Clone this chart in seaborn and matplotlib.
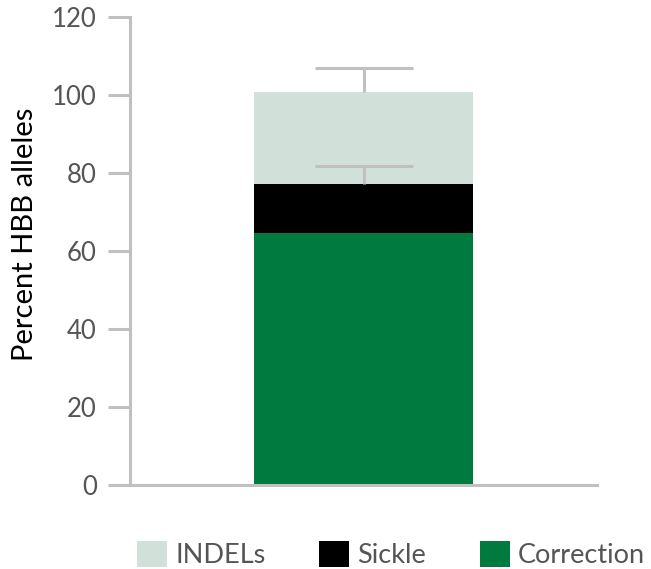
import matplotlib
matplotlib.use("Agg")
import matplotlib.pyplot as plt
import seaborn as sns
import pandas as pd
from matplotlib.patches import Patch

# values (percent of HBB alleles)
sample = ["HBB"]
correction = [64.6]
sickle = [12.6]
indels = [23.6]
sickle_err = [4.6]
indels_err = [6.0]

labels = ["INDELs", "Sickle", "Correction"]
colors = {"INDELs": "#d1e0d9", "Sickle": "#000000", "Correction": "#007a3f"}

df = pd.DataFrame({"sample": sample, "Correction": correction,
                   "Sickle": sickle, "INDELs": indels})
df["top_sickle"] = df["Correction"] + df["Sickle"]
df["top_indels"] = df["top_sickle"] + df["INDELs"]

sns.set_style("white")
plt.rcParams["font.family"] = ["Lato", "DejaVu Sans"]

fig = plt.figure(figsize=(6.51, 5.69), dpi=100)
ax = fig.add_axes([0.1997, 0.1476, 0.7177, 0.8225])

grey = "#c0c0c0"

# stacked bar: draw cumulative totals from the top down
for col, key in [("top_indels", "INDELs"), ("top_sickle", "Sickle"),
                 ("Correction", "Correction")]:
    sns.barplot(data=df, x="sample", y=col, color=colors[key], width=0.47,
                ax=ax, saturation=1, errorbar=None, linewidth=0)

# upper-only error bars (hide the lower cap)
for top, err in [(df["top_indels"], indels_err), (df["top_sickle"], sickle_err)]:
    eb = ax.errorbar([0], top, yerr=[[0], err], fmt="none", ecolor=grey,
                     elinewidth=2.2, capsize=35, capthick=2.2, zorder=5)
    eb[1][0].set_visible(False)

ax.set_xlim(-0.5, 0.5)
ax.set_ylim(0, 120)
ax.set_yticks(range(0, 121, 20))
ax.set_xticks([])
ax.set_xlabel("")
ax.set_ylabel("Percent HBB alleles", fontsize=21, color="black")
ax.yaxis.set_label_coords(-0.197, 0.536)

for s in ["top", "right"]:
    ax.spines[s].set_visible(False)
for s in ["left", "bottom"]:
    ax.spines[s].set_color(grey)
    ax.spines[s].set_linewidth(2.2)
ax.tick_params(axis="y", length=16, width=2.2, color=grey,
               labelsize=18.5, labelcolor="#555555", pad=8, left=True)

handles = [Patch(facecolor=colors[k], edgecolor="none") for k in labels]
fig.legend(handles, labels, loc="center", bbox_to_anchor=(0.601, 0.026),
           ncol=3, frameon=False, fontsize=19.5, labelcolor="#555555",
           handlelength=1.1, handleheight=1.1, handletextpad=0.3,
           columnspacing=2.0, borderpad=0, borderaxespad=0)

fig.savefig("out.png", dpi=100)
